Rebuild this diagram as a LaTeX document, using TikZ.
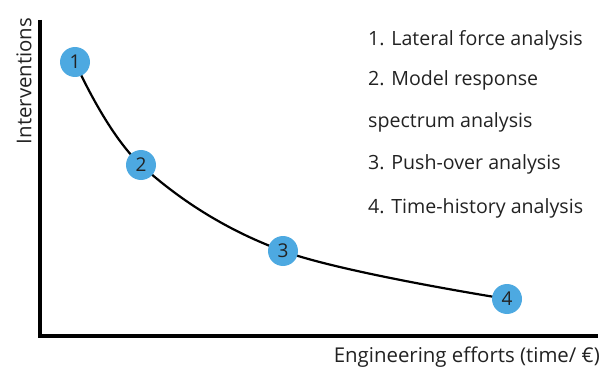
\documentclass[tikz,border=0pt]{standalone}
\usepackage{fontspec}
\setmainfont{Open Sans}
\definecolor{ptblue}{HTML}{4DA9E1}
\definecolor{txt}{HTML}{222222}
\begin{document}
\begin{tikzpicture}[x=1pt,y=-1pt,
  pt/.style={circle,fill=ptblue,minimum size=30pt,inner sep=0pt,text=txt,font=\fontsize{19}{19}\selectfont},
  axis/.style={line width=4.5pt,black},
  lbl/.style={anchor=west,text=txt,font=\fontsize{19.6}{20}\selectfont,inner sep=0pt}]
\useasboundingbox (0,0) rectangle (606,369);
\coordinate (ytop) at (40,20);
\coordinate (orig) at (40,336);
\coordinate (xend) at (598,336);
\draw[axis] (ytop) -- (orig) -- (xend);
\draw[line width=2.2pt] plot[smooth,tension=0.6] coordinates {(75,62) (141,165) (283,251) (507,299)};
\node[pt] (p1) at (75,62) {1};
\node[pt] (p2) at (141,165) {2};
\node[pt] (p3) at (283,251) {3};
\node[pt] (p4) at (507,299) {4};
\node[rotate=90,text=txt,font=\fontsize{20.4}{21}\selectfont,inner sep=0pt] (yl) at (24,81) {Interventions};
\node[anchor=east,text=txt,font=\fontsize{20.4}{21}\selectfont,inner sep=0pt] (xl) at (600,357) {Engineering efforts (time/ €)};
\node[lbl] (l1) at (368,40) {1. Lateral force analysis};
\node[lbl] (l2) at (368,80) {2. Model response};
\node[lbl] (l3) at (368,122) {spectrum analysis};
\node[lbl] (l4) at (368,164) {3. Push-over analysis};
\node[lbl] (l5) at (368,208) {4. Time-history analysis};
\end{tikzpicture}
\end{document}
